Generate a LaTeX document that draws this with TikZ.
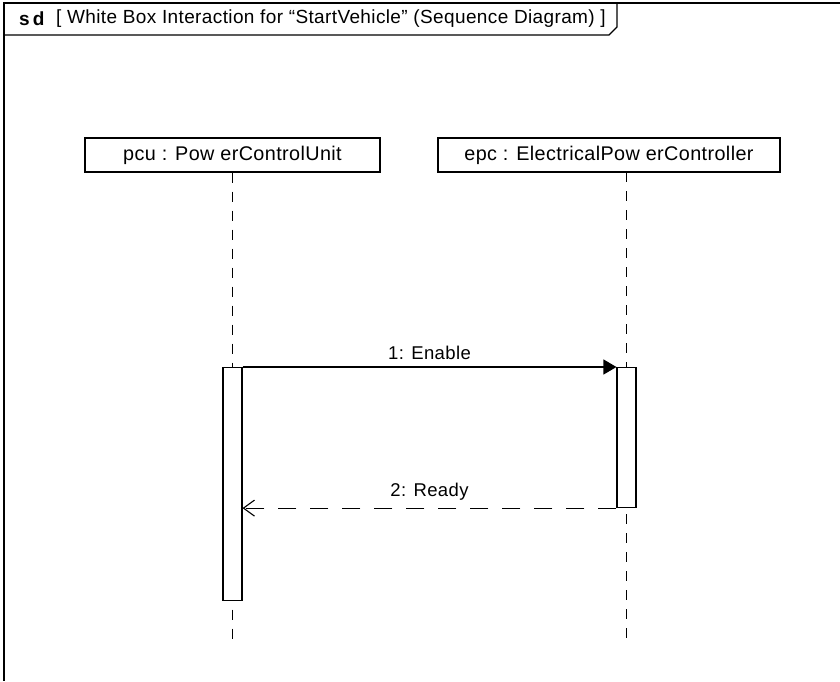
\documentclass[tikz,border=0pt]{standalone}
\usepackage{fontspec}
\setmainfont{Liberation Sans}[LetterSpace=2]
\usetikzlibrary{arrows.meta}
\begin{document}
\begin{tikzpicture}[x=1pt,y=-1pt,
  lbl/.style={font=\fontsize{18.5}{20}\selectfont, inner sep=0pt},
  ttl/.style={font=\fontsize{19}{21}\selectfont, inner sep=0pt},
  headbox/.style={draw, line width=1.1pt, minimum width=#1, minimum height=34pt, font=\fontsize{19.8}{21}\selectfont, inner sep=0pt},
  actbox/.style={draw, line width=1.1pt, fill=white, minimum width=19pt, inner sep=0pt},
  life/.style={line width=1.2pt, dash pattern=on 10pt off 9pt},
  msg/.style={line width=1.1pt},
  reply/.style={line width=1.1pt, dash pattern=on 18pt off 14pt}
]
\useasboundingbox (0,0) rectangle (840,681);
% frame
\draw[line width=1.6pt] (840,3) -- (4,3) -- (4,681);
\draw[line width=1.2pt] (4,35) -- (609,35) -- (617,27) -- (617,3);
\node[ttl, anchor=west] (sd) at (19,19) {\textbf{s\,d}};
\node[ttl, anchor=west] (title) at (56,19) {[ White Box Interaction for “StartVehicle” (Sequence Diagram) ]};
% lifeline heads
\node[headbox=295pt] (pcu) at (232.5,155) {pcu : Pow erControlUnit};
\node[headbox=342pt] (epc) at (609,155) {epc : ElectricalPow erController};
% lifeline coordinates
\coordinate (pcuEnd) at (232.5,640);
\coordinate (epcEnd) at (626.5,640);
\coordinate (epcTop) at (626.5,172);
\draw[life] (pcu.south) -- (pcuEnd);
\draw[life] (epcTop) -- (epcEnd);
% activations
\node[actbox, minimum height=233pt, anchor=north] (actA) at (232.5,367) {};
\node[actbox, minimum height=140pt, anchor=north] (actB) at (626.5,367) {};
% messages
\draw[msg, -{Triangle[length=13pt,width=15pt]}] (actA.north east) -- (actB.north west)
  node[lbl, midway, above=7pt] (m1) {1: Enable};
\draw[reply, -{Straight Barb[length=11pt,width=16pt,line width=1.1pt]}] (actB.south west) -- (actB.south west -| actA.east)
  node[lbl, midway, above=7pt] (m2) {2: Ready};
\end{tikzpicture}
\end{document}
